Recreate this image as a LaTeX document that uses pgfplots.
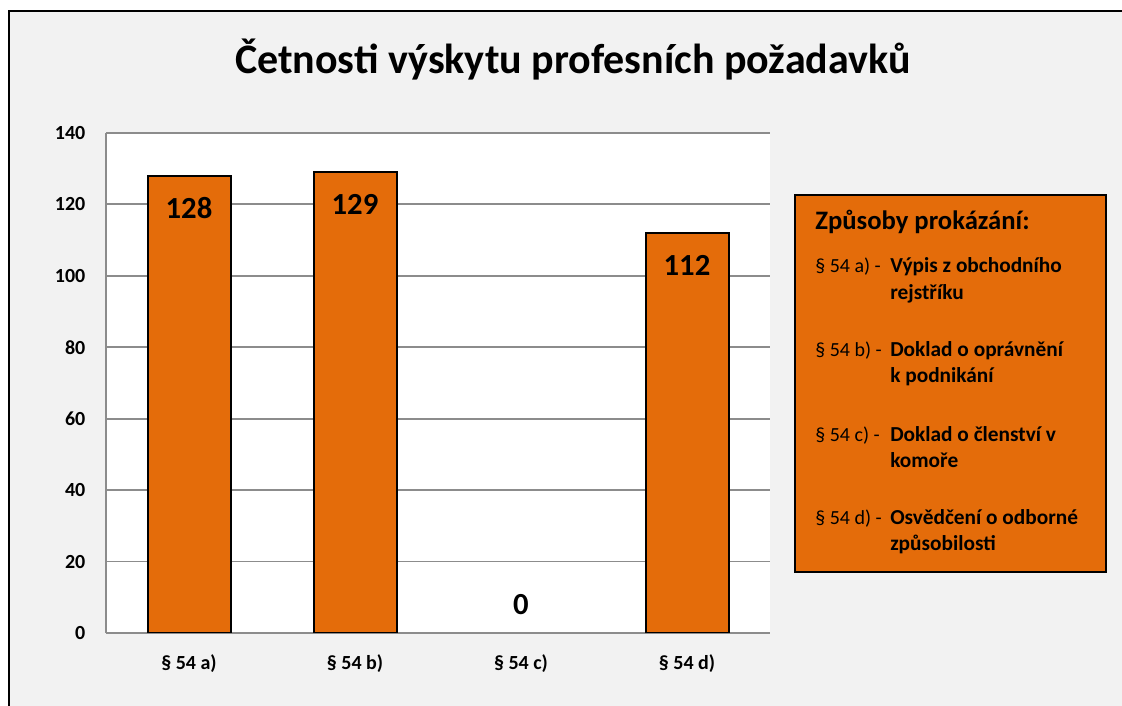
\documentclass[border=0pt]{standalone}
\usepackage{pgfplots}
\pgfplotsset{compat=1.18}
\usepackage{fontspec}
\setmainfont{Carlito}
\definecolor{bg}{HTML}{F2F2F2}
\definecolor{barc}{HTML}{E46C0A}
\definecolor{gridc}{HTML}{8C8C8C}
\begin{document}
\begin{tikzpicture}[x=0.75pt,y=0.75pt]
\path[use as bounding box] (0,0) rectangle (1122,706);
\fill[white] (0,0) rectangle (1122,706);
\fill[bg] (9,0) rectangle (1122,695);
\draw[black, line width=2.2pt] (9,0) -- (9,695) -- (1122,695);
\node[font=\bfseries\fontsize{31.5}{33}\selectfont, anchor=center] at (573,646) {Četnosti výskytu profesních požadavků};
\begin{axis}[
  at={(79.5pt,54.75pt)}, anchor=south west,
  width=498pt, height=375pt, scale only axis,
  xmin=-0.5, xmax=3.5, ymin=0, ymax=140,
  ytick={0,20,...,140},
  xtick={0,1,2,3},
  xticklabels={§ 54 a),§ 54 b),§ 54 c),§ 54 d)},
  axis lines*=left,
  axis line style={gridc, line width=1.4pt},
  ymajorgrids, grid style={gridc, line width=1.4pt},
  major tick length=0pt,
  axis background/.style={fill=white},
  tick label style={font=\bfseries\fontsize{15}{15}\selectfont, black},
  /pgf/number format/assume math mode=true,
  yticklabel style={xshift=-12pt},
  xticklabel style={yshift=-13pt},
  ybar, bar width=62.25pt, bar shift=0pt,
  nodes near coords,
  visualization depends on={rawy \as \rawy},
  every node near coord/.append style={font=\bfseries\fontsize{23}{23}\selectfont, black, anchor=center,
     yshift={ifthenelse(\rawy==0,21,-24)*1pt}},
]
\addplot[fill=barc, draw=black, line width=1.5pt] coordinates {(0,128) (1,129) (3,112)};
\addplot[fill=none, draw=none] coordinates {(2,0)};
\end{axis}
\draw[black, line width=1.5pt, fill=barc] (795,511) rectangle (1106,134);
\node[anchor=base west, inner sep=0pt, font=\bfseries\fontsize{20}{20}\selectfont] at (815,476) {Způsoby prokázání:};
\begin{scope}[every node/.style={anchor=base west, inner sep=0pt, font=\fontsize{15}{15}\selectfont}]
\node at (815,433) {§ 54 a) -};
\node[font=\bfseries\fontsize{16}{16}\selectfont] at (890,433) {Výpis z obchodního};
\node[font=\bfseries\fontsize{16}{16}\selectfont] at (890,406) {rejstříku};
\node at (815,349) {§ 54 b) -};
\node[font=\bfseries\fontsize{16}{16}\selectfont] at (890,349) {Doklad o oprávnění};
\node[font=\bfseries\fontsize{16}{16}\selectfont] at (890,323) {k podnikání};
\node at (815,264) {§ 54 c) -};
\node[font=\bfseries\fontsize{16}{16}\selectfont] at (890,264) {Doklad o členství v};
\node[font=\bfseries\fontsize{16}{16}\selectfont] at (890,238) {komoře};
\node at (815,181) {§ 54 d) -};
\node[font=\bfseries\fontsize{16}{16}\selectfont] at (890,181) {Osvědčení o odborné};
\node[font=\bfseries\fontsize{16}{16}\selectfont] at (890,155) {způsobilosti};
\end{scope}
\end{tikzpicture}
\end{document}
